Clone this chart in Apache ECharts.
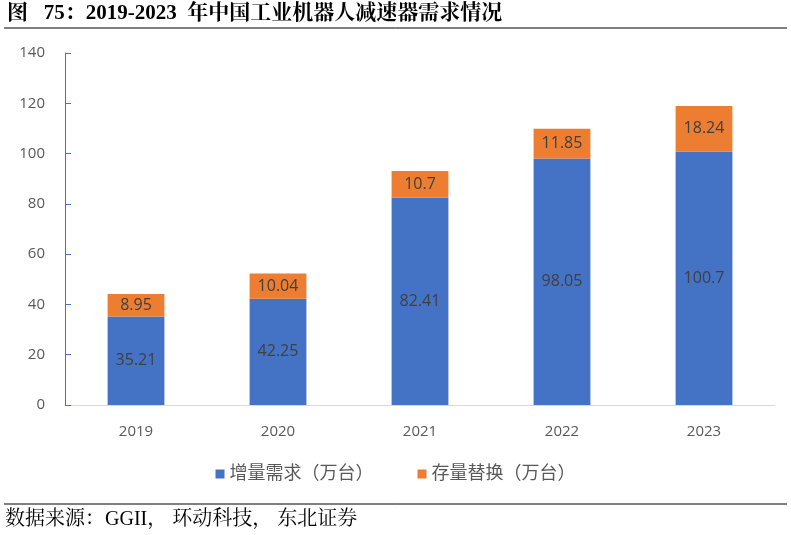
<!DOCTYPE html>
<html><head><meta charset="utf-8">
<script src="https://cdn.jsdelivr.net/npm/echarts@6/dist/echarts.min.js"></script>
<style>html,body{margin:0;padding:0;background:#fff}#c{width:791px;height:535px}</style>
</head><body><div id="c"></div>
<script>
var categories = ['2019','2020','2021','2022','2023'];
var incremental = [35.21, 42.25, 82.41, 98.05, 100.7];
var replacement = [8.95, 10.04, 10.7, 11.85, 18.24];
var seriesNames = ['增量需求（万台）','存量替换（万台）'];
var yTicks = {min:0, max:140, interval:20};

var chart = echarts.init(document.getElementById('c'));
var serif = '"Liberation Serif","Noto Serif CJK SC","Noto Sans CJK SC",serif';
var sans = '"Open Sans","Noto Sans CJK SC",sans-serif';
chart.setOption({
  animation:false,
  backgroundColor:'#fff',
  graphic:[
    {type:'text', left:7, top:3, style:{text:'图   75：2019-2023  年中国工业机器人减速器需求情况', font:'bold 21px '+serif, fill:'#000'}},
    {type:'line', shape:{x1:4,y1:28,x2:787,y2:28}, style:{stroke:'#000', lineWidth:1}},
    {type:'line', shape:{x1:4,y1:504,x2:787,y2:504}, style:{stroke:'#000', lineWidth:1}},
    {type:'text', left:5, top:510, style:{text:'数据来源：GGII， 环动科技， 东北证券', font:'20px '+serif, fill:'#000'}}
  ],
  grid:{left:65, right:16, top:53, bottom:130},
  legend:{
    bottom:47, left:'center', itemGap:44, itemWidth:9, itemHeight:9, icon:'rect',
    textStyle:{fontSize:18, color:'#595959', fontFamily:sans},
    data:seriesNames
  },
  xAxis:{
    type:'category', data:categories,
    axisLine:{lineStyle:{color:'#d9d9d9', width:1}},
    axisTick:{show:false},
    axisLabel:{fontSize:15, color:'#595959', margin:19, fontFamily:sans}
  },
  yAxis:{
    type:'value', min:yTicks.min, max:yTicks.max, interval:yTicks.interval,
    axisLine:{show:true, lineStyle:{color:'#4472C4', width:1}},
    axisTick:{show:true, inside:true, length:6, lineStyle:{color:'#4472C4'}},
    splitLine:{show:false},
    axisLabel:{fontSize:15, color:'#595959', margin:20, fontFamily:sans}
  },
  series:[
    {name:seriesNames[0], type:'bar', stack:'a', data:incremental, barWidth:'40%',
     itemStyle:{color:'#4472C4'},
     label:{show:true, position:'inside', fontSize:16, color:'#404040', fontFamily:sans}},
    {name:seriesNames[1], type:'bar', stack:'a', data:replacement, barWidth:'40%',
     itemStyle:{color:'#ED7D31'},
     label:{show:true, position:'inside', fontSize:16, color:'#404040', fontFamily:sans}}
  ]
});
</script></body></html>
